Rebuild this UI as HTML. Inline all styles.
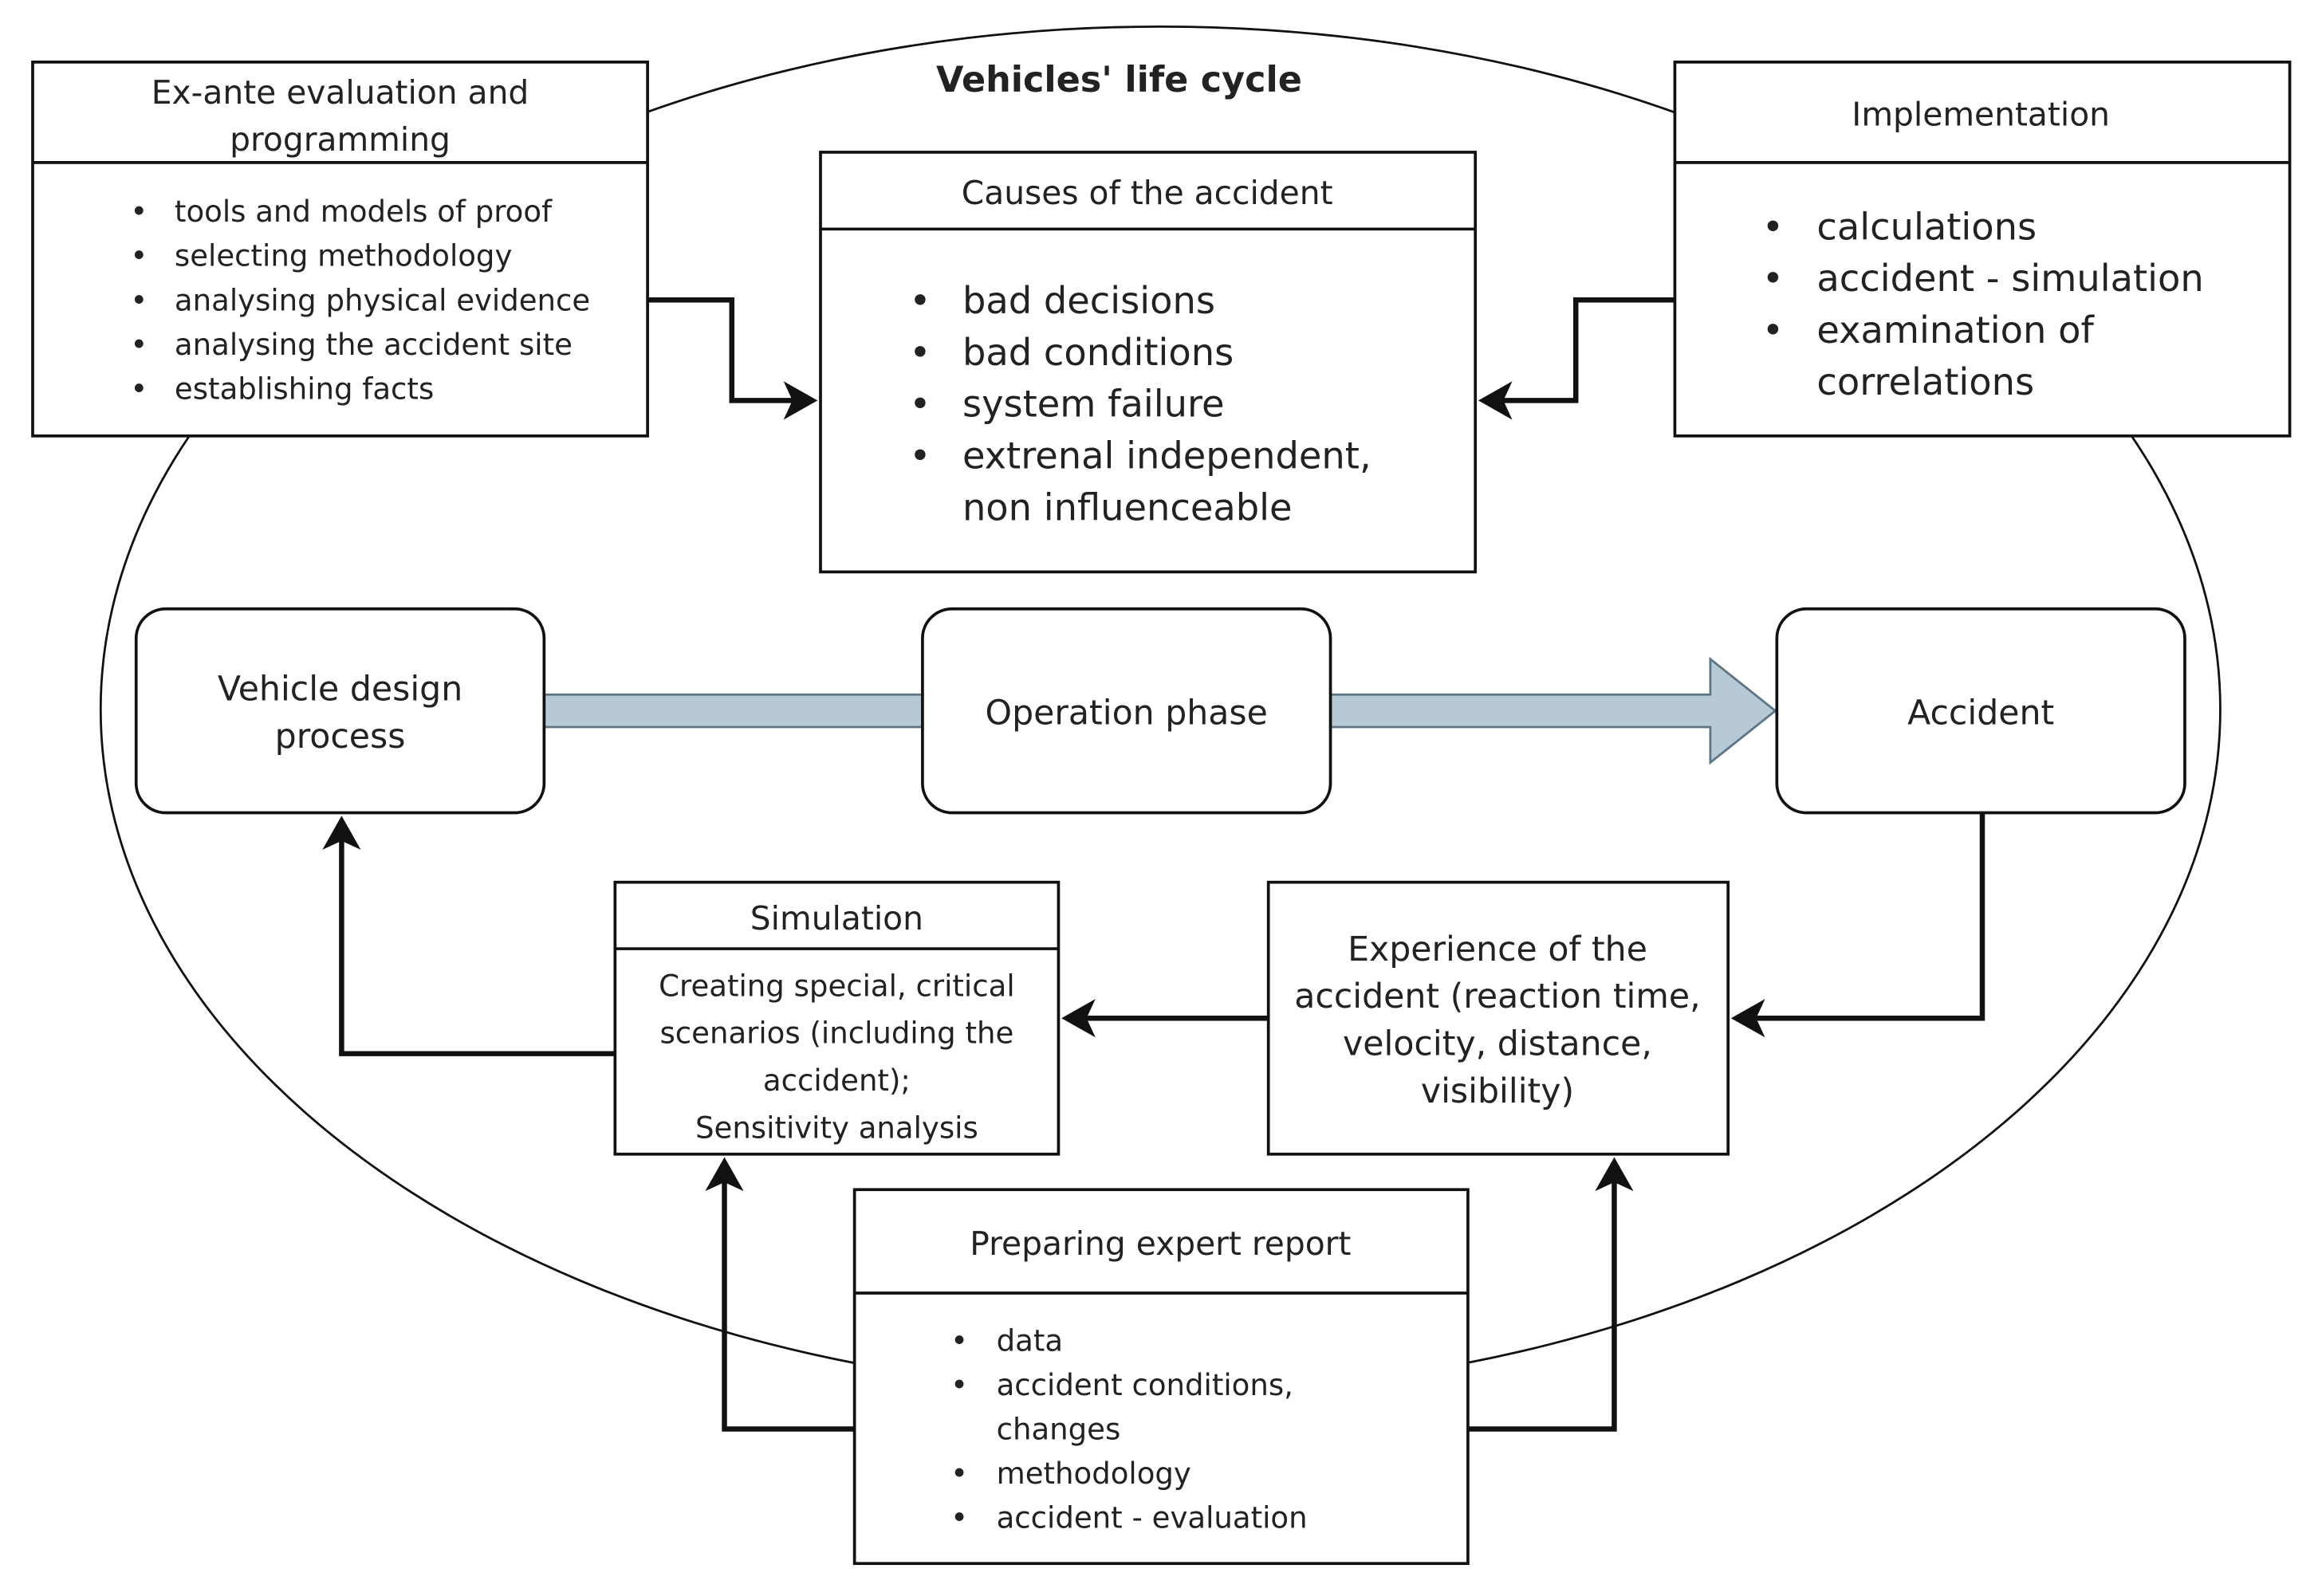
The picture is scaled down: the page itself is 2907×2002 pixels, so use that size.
<!DOCTYPE html>
<html><head><meta charset="utf-8"><style>
html,body{margin:0;padding:0;background:#fff;}
svg{display:block;}
text{font-family:"DejaVu Sans","Liberation Sans",sans-serif;fill:#222;}
</style></head><body>
<svg width="2907" height="2002" viewBox="0 0 1568 1080" xmlns="http://www.w3.org/2000/svg">
<rect width="1568" height="1080" fill="#fff"/>
<ellipse cx="785" cy="480" rx="717" ry="462" fill="none" stroke="#111" stroke-width="1.5"/>
<text x="757" y="62" font-size="24" font-weight="bold" text-anchor="middle">Vehicles' life cycle</text>

<g fill="none" stroke="#111" stroke-width="3.5">
<polyline points="438,203 495,203 495,271 540,271"/>
<polyline points="1133,203 1066,203 1066,271 1013,271"/>
<polyline points="1341,550 1341,689 1184,689"/>
<polyline points="858,689 731,689"/>
<polyline points="416,713 231,713 231,565"/>
<polyline points="578,967 490,967 490,796"/>
<polyline points="993,967 1092,967 1092,796"/>
</g>
<g fill="#111">
<polygon points="553,271 530,258 536,271 530,284"/>
<polygon points="1000,271 1023,258 1017,271 1023,284"/>
<polygon points="1171,689 1194,676 1188,689 1194,702"/>
<polygon points="718,689 741,676 735,689 741,702"/>
<polygon points="231,552 218,575 231,569 244,575"/>
<polygon points="490,783 477,806 490,800 503,806"/>
<polygon points="1092,783 1079,806 1092,800 1105,806"/>
</g>

<polygon points="368,470 1157,470 1157,446 1201,481 1157,516 1157,492 368,492" fill="#b8c9d6" stroke="#5d7585" stroke-width="1.5"/>

<rect x="22" y="42" width="416" height="253" fill="#fff" stroke="#111" stroke-width="2"/>
<line x1="22" y1="110" x2="438" y2="110" stroke="#111" stroke-width="2"/>
<text x="230" y="70" font-size="22" text-anchor="middle">Ex-ante evaluation and</text>
<text x="230" y="102" font-size="22" text-anchor="middle">programming</text>
<g font-size="20">
<text x="88" y="150">•</text><text x="118" y="150">tools and models of proof</text>
<text x="88" y="180">•</text><text x="118" y="180">selecting methodology</text>
<text x="88" y="210">•</text><text x="118" y="210">analysing physical evidence</text>
<text x="88" y="240">•</text><text x="118" y="240">analysing the accident site</text>
<text x="88" y="270">•</text><text x="118" y="270">establishing facts</text>
</g>

<rect x="555" y="103" width="443" height="284" fill="#fff" stroke="#111" stroke-width="2"/>
<line x1="555" y1="155" x2="998" y2="155" stroke="#111" stroke-width="2"/>
<text x="776" y="138" font-size="22" text-anchor="middle">Causes of the accident</text>
<g font-size="25">
<text x="615" y="212">•</text><text x="651" y="212">bad decisions</text>
<text x="615" y="247">•</text><text x="651" y="247">bad conditions</text>
<text x="615" y="282">•</text><text x="651" y="282">system failure</text>
<text x="615" y="317">•</text><text x="651" y="317">extrenal independent,</text>
<text x="651" y="352">non influenceable</text>
</g>

<rect x="1133" y="42" width="416" height="253" fill="#fff" stroke="#111" stroke-width="2"/>
<line x1="1133" y1="110" x2="1549" y2="110" stroke="#111" stroke-width="2"/>
<text x="1340" y="85" font-size="22" text-anchor="middle">Implementation</text>
<g font-size="25">
<text x="1192" y="162">•</text><text x="1229" y="162">calculations</text>
<text x="1192" y="197">•</text><text x="1229" y="197">accident - simulation</text>
<text x="1192" y="232">•</text><text x="1229" y="232">examination of</text>
<text x="1229" y="267">correlations</text>
</g>

<rect x="92" y="412" width="276" height="138" rx="20" fill="#fff" stroke="#111" stroke-width="2"/>
<text x="230" y="474" font-size="23" text-anchor="middle">Vehicle design</text>
<text x="230" y="506" font-size="23" text-anchor="middle">process</text>
<rect x="624" y="412" width="276" height="138" rx="20" fill="#fff" stroke="#111" stroke-width="2"/>
<text x="762" y="490" font-size="23" text-anchor="middle">Operation phase</text>
<rect x="1202" y="412" width="276" height="138" rx="20" fill="#fff" stroke="#111" stroke-width="2"/>
<text x="1340" y="490" font-size="23" text-anchor="middle">Accident</text>

<rect x="416" y="597" width="300" height="184" fill="#fff" stroke="#111" stroke-width="2"/>
<line x1="416" y1="642" x2="716" y2="642" stroke="#111" stroke-width="2"/>
<text x="566" y="629" font-size="22" text-anchor="middle">Simulation</text>
<g font-size="20" text-anchor="middle">
<text x="566" y="674">Creating special, critical</text>
<text x="566" y="706">scenarios (including the</text>
<text x="566" y="738">accident);</text>
<text x="566" y="770">Sensitivity analysis</text>
</g>

<rect x="858" y="597" width="311" height="184" fill="#fff" stroke="#111" stroke-width="2"/>
<g font-size="23" text-anchor="middle">
<text x="1013" y="650">Experience of the</text>
<text x="1013" y="682">accident (reaction time,</text>
<text x="1013" y="714">velocity, distance,</text>
<text x="1013" y="746">visibility)</text>
</g>

<rect x="578" y="805" width="415" height="253" fill="#fff" stroke="#111" stroke-width="2"/>
<line x1="578" y1="875" x2="993" y2="875" stroke="#111" stroke-width="2"/>
<text x="785" y="849" font-size="22" text-anchor="middle">Preparing expert report</text>
<g font-size="20">
<text x="643" y="914">•</text><text x="674" y="914">data</text>
<text x="643" y="944">•</text><text x="674" y="944">accident conditions,</text>
<text x="674" y="974">changes</text>
<text x="643" y="1004">•</text><text x="674" y="1004">methodology</text>
<text x="643" y="1034">•</text><text x="674" y="1034">accident - evaluation</text>
</g>
</svg>
</body></html>
